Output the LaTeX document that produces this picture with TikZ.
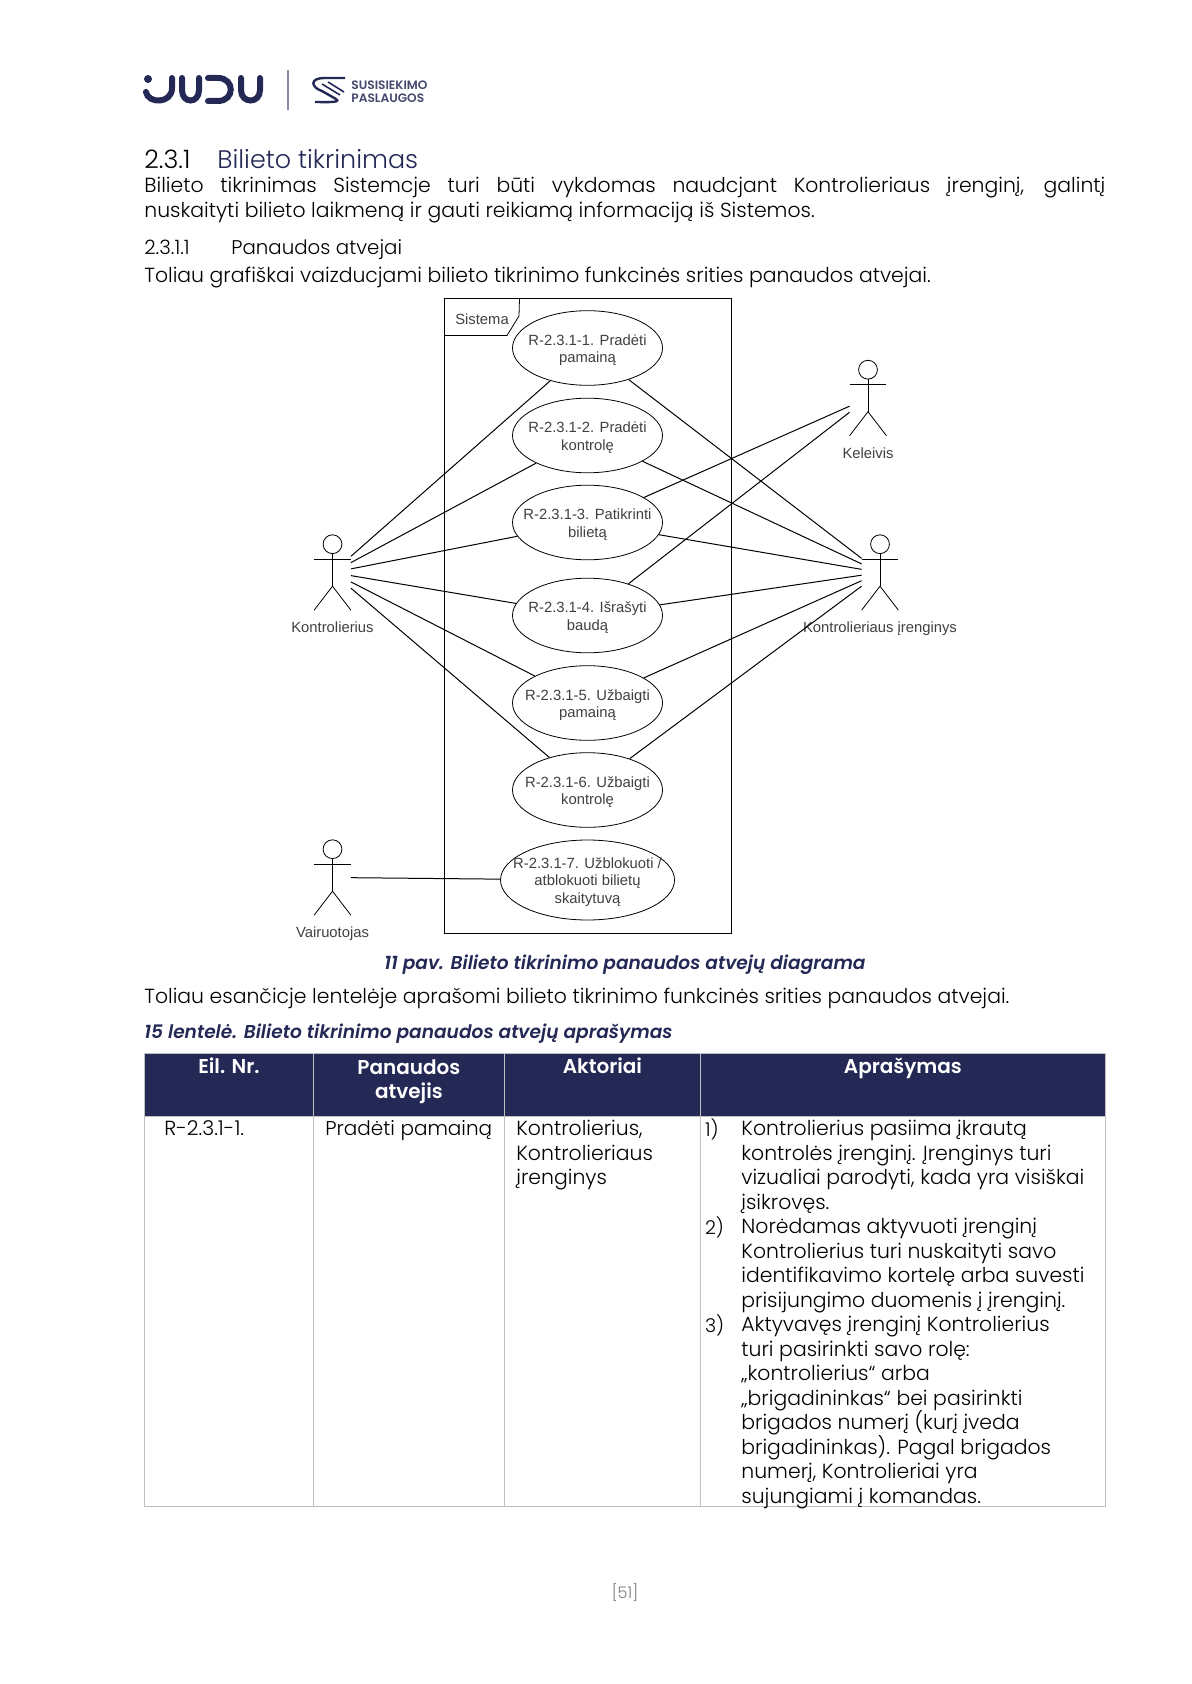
\documentclass[tikz,border=0pt]{standalone}
\usepackage{fontspec}
\setmainfont{Poppins}[UprightFont=* Light,BoldFont=* SemiBold,ItalicFont=* Light Italic,BoldItalicFont=* SemiBold Italic]
\newfontfamily\diagfont{Liberation Sans}
\usepackage{xcolor}
\usepackage{tikz}
\usetikzlibrary{positioning,shapes.geometric}
\definecolor{judunavy}{HTML}{232855}
\definecolor{diagtext}{HTML}{404040}
\definecolor{gridgray}{HTML}{BFBFBF}
\normallineskiplimit=-100pt
\lineskiplimit=-100pt
\tikzset{
usecase/.style={draw,ellipse,minimum width=75pt,minimum height=37.3pt,inner xsep=-14pt,inner ysep=-2pt,align=center,text=diagtext,font=\diagfont\fontsize{7.4}{8.6}\selectfont},
actor/.style={rectangle,minimum width=18pt,minimum height=37.3pt,inner sep=0pt},
actorname/.style={anchor=base,text=diagtext,inner sep=0pt,font=\diagfont\fontsize{7.4}{9.3}\selectfont},
link/.style={draw,line width=0.5pt},
bodytext/.style={anchor=base west,inner sep=0pt,font=\fontsize{10.2}{12.25}\selectfont},
headingtext/.style={anchor=base west,inner sep=0pt,font=\fontsize{12.7}{14}\selectfont},
captiontext/.style={inner sep=0pt,text=judunavy,font=\fontsize{9.3}{12}\selectfont\bfseries\itshape},
headcell/.style={anchor=north west,fill=judunavy,draw=gridgray,inner sep=0pt,minimum height=31.5pt},
bodycell/.style={anchor=north west,draw=gridgray,inner sep=0pt,minimum height=195pt},
headtext/.style={anchor=base,inner sep=0pt,align=center,text=white,font=\fontsize{10}{12.25}\selectfont\bfseries},
celltext/.style={anchor=north west,inner sep=0pt,align=left,font=\fontsize{10.2}{12.25}\selectfont},
numtext/.style={anchor=north west,inner sep=0pt,font=\fontsize{9.5}{12.25}\selectfont},
logostroke/.style={draw=judunavy,line width=3pt,line cap=round}
}
\newcommand{\ucstrut}{\rule{0pt}{7.5pt}}
\newcommand{\stickman}[1]{
\draw ([yshift=-4.7pt]#1.north) circle[radius=4.7pt];
\draw ([yshift=-9.4pt]#1.north) -- ([yshift=12pt]#1.south);
\draw ([yshift=-12.1pt]#1.north west) -- ([yshift=-12.1pt]#1.north east);
\draw ([yshift=12pt]#1.south) -- (#1.south west);
\draw ([yshift=12pt]#1.south) -- (#1.south east);
}
\begin{document}
\begin{tikzpicture}[x=0.5pt,y=-0.5pt]
\path[use as bounding box,fill=white] (0,0) rectangle (1191,1684);
% logo
\fill[judunavy] (148,79) circle[radius=2pt];
\draw[logostroke] (146,92) .. controls (148,104) and (172,104) .. (172,88) -- (172,78);
\draw[logostroke] (182,78) -- (182,90) .. controls (182,104) and (199,104) .. (199,90) -- (199,78);
\draw[logostroke] (208,78) -- (218,78) .. controls (235,78) and (235,101) .. (218,101) -- (208,101);
\draw[logostroke] (241,78) -- (241,90) .. controls (241,104) and (260,104) .. (260,90) -- (260,78);
\draw[draw=judunavy!55,line width=1.2pt] (288,70) -- (288,110);
\draw[judunavy,line width=1.2pt] (345,78) -- (325,78) .. controls (308,78) and (312,88) .. (322,91) -- (336,99) .. controls (342,103) and (325,102) .. (315,102);
\draw[judunavy,line width=0.8pt] (322,84) -- (340,95);
\draw[judunavy,line width=0.8pt] (328,82) -- (344,92);
\node[anchor=base west,inner sep=0pt,text=judunavy!85,font=\fontsize{6.1}{6}\selectfont\bfseries] (logotop) at (351,90) {SUSISIEKIMO};
\node[anchor=base west,inner sep=0pt,text=judunavy!85,font=\fontsize{6.1}{6}\selectfont\bfseries] (logobottom) at (351,103) {PASLAUGOS};
% text above the diagram
\node[headingtext] (secnum) at (144,169) {2.3.1};
\node[headingtext,text=judunavy] (sectitle) at (217,169) {Bilieto tikrinimas};
\node[anchor=north west,inner sep=0pt,text width=480.5pt,align=justify,font=\fontsize{10.2}{12.4}\selectfont] (intro) at (144,177) {Bilieto tikrinimas Sistemcje turi būti vykdomas naudcjant Kontrolieriaus įrenginį, galintį\linebreak nuskaityti bilieto laikmeną ir gauti reikiamą informaciją iš Sistemos.};
\node[bodytext,font=\fontsize{9.9}{12.25}\selectfont] (subnum) at (144,255) {2.3.1.1};
\node[bodytext,font=\fontsize{9.9}{12.25}\selectfont] (subtitle) at (231,255) {Panaudos atvejai};
\node[bodytext] (lead) at (144,283) {Toliau grafiškai vaizducjami bilieto tikrinimo funkcinės srities panaudos atvejai.};
% diagram
\node[draw,line width=0.5pt,anchor=north west,inner sep=0pt,minimum width=143.5pt,minimum height=317.5pt] (sistema) at (444,298) {};
\draw (sistema.north west) ++(0,37.5) -- ++(63,0) -- ++(12,-19.5) -- (519.5,298);
\node[actorname] (sistemaname) at (482,325) {Sistema};
\node[usecase] (uc1) at (587.5,348) {\ucstrut R-2.3.1-1. Pradėti\\pamainą};
\node[usecase] (uc2) at (587.5,435.5) {\ucstrut R-2.3.1-2. Pradėti\\kontrolę};
\node[usecase] (uc3) at (587.5,522.5) {\ucstrut R-2.3.1-3. Patikrinti\\bilietą};
\node[usecase] (uc4) at (587.5,615.5) {\ucstrut R-2.3.1-4. Išrašyti\\baudą};
\node[usecase] (uc5) at (587.5,703) {\ucstrut R-2.3.1-5. Užbaigti\\pamainą};
\node[usecase] (uc6) at (587.5,790) {\ucstrut R-2.3.1-6. Užbaigti\\kontrolę};
\node[usecase,minimum width=87pt,minimum height=40pt] (uc7) at (587.5,880) {\ucstrut R-2.3.1-7. Užblokuoti /\\atblokuoti bilietų\\skaitytuvą};
\node[actor] (kontrolierius) at (332.5,572.5) {};
\node[actor] (irenginys) at (880,572.5) {};
\node[actor] (keleivis) at (868,398) {};
\node[actor] (vairuotojas) at (332.5,877.5) {};
\stickman{kontrolierius}
\stickman{irenginys}
\stickman{keleivis}
\stickman{vairuotojas}
\node[actorname] (kontroleriusname) at (332.5,632) {Kontrolierius};
\node[actorname] (irenginysname) at (880,632) {Kontrolieriaus įrenginys};
\node[actorname] (keleivisname) at (868,458.5) {Keleivis};
\node[actorname] (vairuotojasname) at (332.5,937) {Vairuotojas};
\foreach \i in {1,...,6} {
\draw[link] (kontrolierius) -- (uc\i);
\draw[link] (irenginys) -- (uc\i);
}
\draw[link] (keleivis) -- (uc3);
\draw[link] (keleivis) -- (uc4);
\draw[link] (vairuotojas) -- (uc7);
% captions
\node[captiontext,anchor=base] (figcaption) at (625,969) {11 pav. Bilieto tikrinimo panaudos atvejų diagrama};
\node[bodytext] (tablelead) at (144,1003) {Toliau esančicje lentelėje aprašomi bilieto tikrinimo funkcinės srities panaudos atvejai.};
\node[captiontext,anchor=base west] (tabcaption) at (144,1038) {15 lentelė. Bilieto tikrinimo panaudos atvejų aprašymas};
% table
\node[headcell,minimum width=84.5pt] (hnr) at (144,1053) {};
\node[headcell,minimum width=95.5pt] (huc) at (313,1053) {};
\node[headcell,minimum width=98pt] (hact) at (504,1053) {};
\node[headcell,minimum width=202.5pt] (hdesc) at (700,1053) {};
\node[bodycell,minimum width=84.5pt] (cnr) at (144,1116) {};
\node[bodycell,minimum width=95.5pt] (cuc) at (313,1116) {};
\node[bodycell,minimum width=98pt] (cact) at (504,1116) {};
\node[bodycell,minimum width=202.5pt] (cdesc) at (700,1116) {};
\node[headtext] (tnr) at ([yshift=-10pt]hnr.north) {Eil. Nr.};
\node[headtext,anchor=north] (tuc) at ([yshift=-3pt]huc.north) {Panaudos\\atvejis};
\node[headtext] (tact) at ([yshift=-10pt]hact.north) {Aktoriai};
\node[headtext] (tdesc) at ([yshift=-10pt]hdesc.north) {Aprašymas};
\node[celltext] (dnr) at ([xshift=10pt,yshift=-2pt]cnr.north west) {R-2.3.1-1.};
\node[celltext,font=\fontsize{10}{12.25}\selectfont] (duc) at ([xshift=6pt,yshift=-2pt]cuc.north west) {Pradėti pamainą};
\node[celltext] (dact) at ([xshift=6pt,yshift=-2pt]cact.north west) {Kontrolierius,\\Kontrolieriaus\\įrenginys};
\node[celltext] (ddesc) at ([xshift=20.5pt,yshift=-2pt]cdesc.north west) {Kontrolierius pasiima įkrautą\\kontrolės įrenginį. Įrenginys turi\\vizualiai parodyti, kada yra visiškai\\įsikrovęs.\\Norėdamas aktyvuoti įrenginį\\Kontrolierius turi nuskaityti savo\\identifikavimo kortelę arba suvesti\\prisijungimo duomenis į įrenginį.\\Aktyvavęs įrenginį Kontrolierius\\turi pasirinkti savo rolę:\\„kontrolierius“ arba\\„brigadininkas“ bei pasirinkti\\brigados numerį (kurį įveda\\brigadininkas). Pagal brigados\\numerį, Kontrolieriai yra\\sujungiami į komandas.};
\node[numtext] (num1) at ([xshift=2.3pt,yshift=1pt]cdesc.north west |- ddesc.north) {1)};
\node[numtext] (num2) at ([xshift=2.3pt,yshift=-48pt]cdesc.north west |- ddesc.north) {2)};
\node[numtext] (num3) at ([xshift=2.3pt,yshift=-97pt]cdesc.north west |- ddesc.north) {3)};
\node[anchor=base,inner sep=0pt,text=gray,font=\fontsize{8}{10}\selectfont] (pageno) at (625,1598) {[51]};
\end{tikzpicture}
\end{document}
